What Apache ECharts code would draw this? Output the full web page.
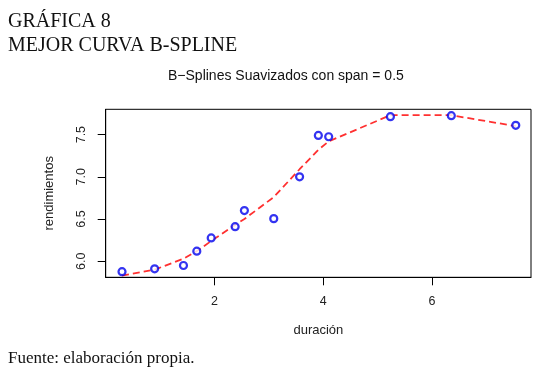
<!DOCTYPE html>
<html>
<head>
<meta charset="utf-8">
<script src="https://cdn.jsdelivr.net/npm/echarts@6/dist/echarts.min.js"></script>
<style>html,body{margin:0;padding:0;background:#fff}#c{width:541px;height:374px}</style>
</head>
<body>
<div id="c"></div>
<script>
// Data
const duracion = [0.30, 0.90, 1.43, 1.675, 1.94, 2.38, 2.55, 3.09, 3.565, 3.91, 4.10, 5.235, 6.355, 7.54];
const rendimientos = [5.877, 5.91, 5.95, 6.12, 6.276, 6.41, 6.60, 6.505, 7.00, 7.49, 7.475, 7.713, 7.725, 7.61];
const ajustado = [5.83, 5.90, 6.03, 6.12, 6.24, 6.43, 6.50, 6.76, 7.09, 7.32, 7.42, 7.73, 7.73, 7.60];
const xTicks = [2, 4, 6];
const yTicks = [6.0, 6.5, 7.0, 7.5];

const puntos = duracion.map((d, i) => [d, rendimientos[i]]);
const curva = duracion.map((d, i) => [d, ajustado[i]]);

const chart = echarts.init(document.getElementById('c'));
const serif = '"Liberation Serif", "DejaVu Serif", serif';
const sans = '"Liberation Sans", Arial, sans-serif';
chart.setOption({
  animation: false,
  backgroundColor: '#fff',
  title: [
    { text: 'GRÁFICA 8\nMEJOR CURVA B-SPLINE', left: 3, top: 5,
      textStyle: { fontFamily: serif, fontSize: 20, fontWeight: 'normal', color: '#111', lineHeight: 24 } },
    { text: 'B\u2212Splines Suavizados con span = 0.5', left: 163, top: 64,
      textStyle: { fontFamily: sans, fontSize: 14, fontWeight: 'normal', color: '#111' } },
    { text: 'Fuente: elaboración propia.', left: 3, top: 345,
      textStyle: { fontFamily: serif, fontSize: 17, fontWeight: 'normal', color: '#111' } }
  ],
  grid: { left: 105.7, right: 10, top: 109.3, bottom: 96.7, show: true, borderColor: '#000', borderWidth: 1, backgroundColor: 'transparent' },
  xAxis: {
    type: 'value', min: 0, max: 7.82,
    name: 'duración', nameLocation: 'middle', nameGap: 47,
    nameTextStyle: { fontFamily: sans, fontSize: 13, color: '#222' },
    axisLine: { show: true, lineStyle: { color: '#000', width: 1 } },
    axisTick: { show: true, length: 8, lineStyle: { color: '#000' }, customValues: xTicks },
    axisLabel: { margin: 18, fontFamily: sans, fontSize: 12.5, color: '#222', customValues: xTicks },
    splitLine: { show: false }
  },
  yAxis: {
    type: 'value', min: 5.81, max: 7.80,
    name: 'rendimientos', nameLocation: 'middle', nameGap: 50, nameRotate: 90,
    nameTextStyle: { fontFamily: sans, fontSize: 13, color: '#222' },
    axisLine: { show: true, lineStyle: { color: '#000', width: 1 } },
    axisTick: { show: true, length: 8, lineStyle: { color: '#000' }, customValues: yTicks },
    axisLabel: { margin: 18, rotate: 90, fontFamily: sans, fontSize: 12.5, color: '#222', customValues: yTicks,
      formatter: v => Number(v).toFixed(1) },
    splitLine: { show: false }
  },
  series: [
    { type: 'line', data: curva, showSymbol: false, smooth: false, z: 2,
      lineStyle: { color: '#ff3030', width: 1.8, type: [7, 4] } },
    { type: 'scatter', data: puntos, symbol: 'circle', symbolSize: 7, z: 3,
      itemStyle: { color: '#fff', borderColor: '#0000ee', borderWidth: 2.2 } }
  ]
});
</script>
</body>
</html>
